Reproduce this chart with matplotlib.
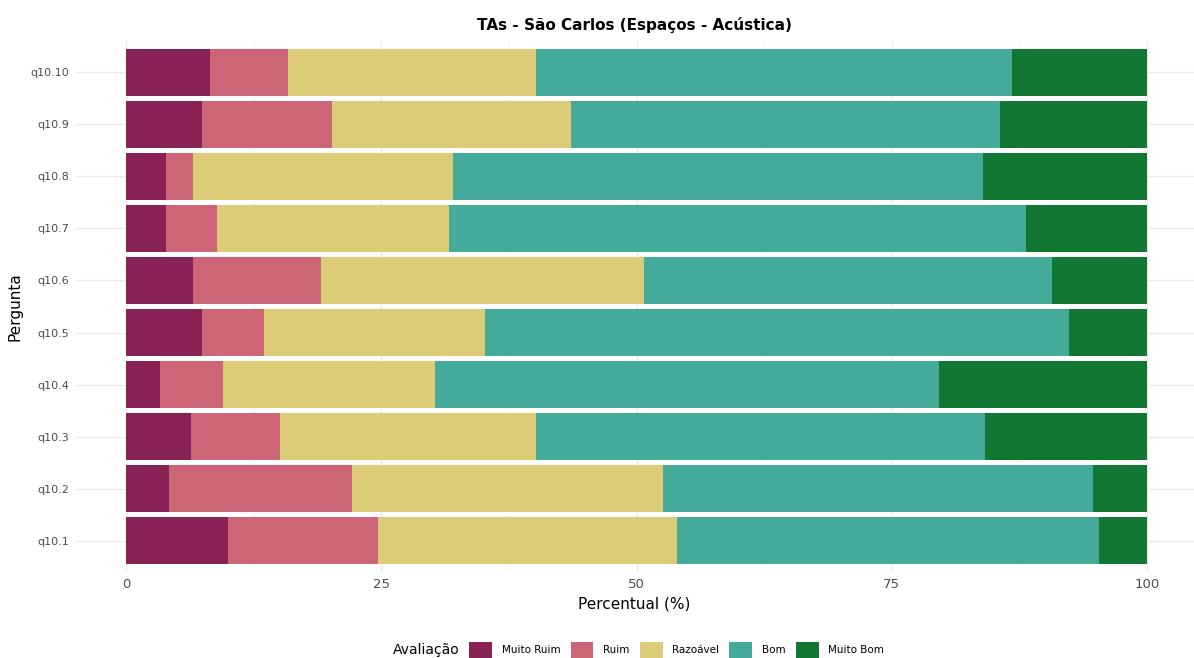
import numpy as np
import matplotlib.pyplot as plt
from matplotlib.patches import Patch

# ==========================================
# Data (percent of answers per question)
# ==========================================

perguntas = ["q10.1", "q10.2", "q10.3", "q10.4", "q10.5",
             "q10.6", "q10.7", "q10.8", "q10.9", "q10.10"]

categorias = ["Muito Ruim", "Ruim", "Razoável", "Bom", "Muito Bom"]

muito_ruim = [10.0, 4.2, 6.4, 3.3, 7.4, 6.6, 3.9, 3.9, 7.4, 8.2]
ruim = [14.7, 17.9, 8.7, 6.2, 6.1, 12.5, 5.0, 2.7, 12.8, 7.7]
razoavel = [29.3, 30.5, 25.1, 20.8, 21.7, 31.6, 22.7, 25.4, 23.4, 24.3]
bom = [41.3, 42.1, 43.9, 49.3, 57.2, 40.0, 56.5, 51.9, 42.0, 46.6]
muito_bom = [4.7, 5.3, 15.9, 20.4, 7.6, 9.3, 11.9, 16.1, 14.4, 13.2]

cores = ["#882255", "#CC6677", "#DDCC77", "#44AA99", "#117733"]

# ==========================================
# Figure
# ==========================================

fig = plt.figure(figsize=(11.94, 6.58), dpi=100)
ax = fig.add_axes([75 / 1194, 1 - 572 / 658, 1 - 75 / 1194, (572 - 41) / 658])

series = [muito_ruim, ruim, razoavel, bom, muito_bom]
y = np.arange(len(perguntas))
left = np.zeros(len(perguntas))

for valores, cor, nome in zip(series, cores, categorias):
    valores = np.array(valores)
    ax.barh(y, valores, left=left, height=0.9,
            color=cor, label=nome, zorder=2)
    left += valores

ax.set_xlim(-5, 104.6)
ax.set_ylim(-0.6, len(perguntas) - 0.4)
ax.set_yticks(y)
ax.set_yticklabels(perguntas, fontsize=8, color="#4d4d4d")
ax.set_xticks([0, 25, 50, 75, 100])
ax.set_xticklabels(["0", "25", "50", "75", "100"],
                   fontsize=9.5, color="#4d4d4d")
ax.set_xticks([12.5, 37.5, 62.5, 87.5], minor=True)

ax.grid(True, which="major", color="#ebebeb", linewidth=0.9, zorder=0)
ax.grid(True, which="minor", axis="x", color="#f3f3f3",
        linewidth=0.6, zorder=0)
ax.tick_params(length=0, which="both", pad=4)
for s in ax.spines.values():
    s.set_visible(False)

ax.set_xlabel("Percentual (%)", fontsize=11, labelpad=4)
ax.set_ylabel("Pergunta", fontsize=11, labelpad=6)
ax.set_title("TAs - São Carlos (Espaços - Acústica)",
             fontsize=11, fontweight="bold", pad=8)

# Legend at the bottom, title on the left
handles = [Patch(facecolor=c, edgecolor="none") for c in cores]
fig.legend(handles, categorias, loc="center left",
           bbox_to_anchor=(464 / 1194, 1 - 650 / 658),
           ncol=5, frameon=False, fontsize=7.5,
           handlelength=2.2, handleheight=2.0,
           columnspacing=1.0, handletextpad=0.9, borderpad=0)
fig.text(393 / 1194, 1 - 650 / 658, "Avaliação",
         fontsize=10, va="center", ha="left")

fig.savefig("out.png", dpi=100)
